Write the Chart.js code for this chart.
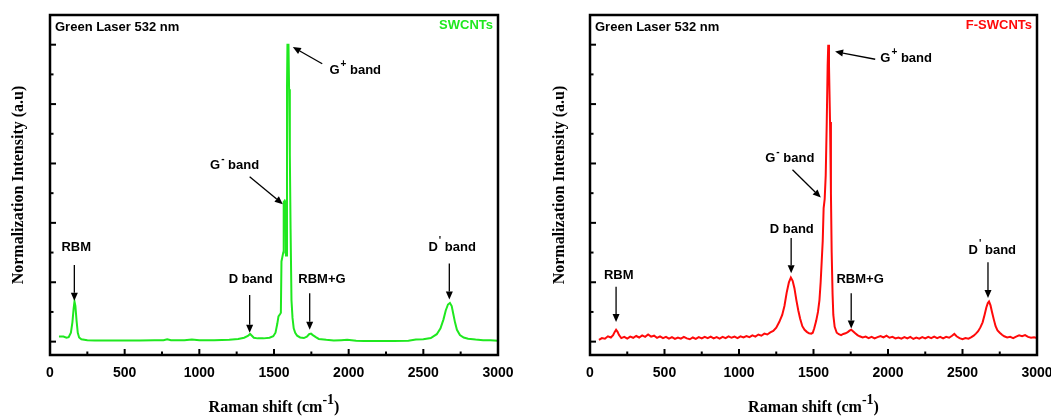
<!DOCTYPE html>
<html>
<head>
<meta charset="utf-8">
<script src="https://cdn.jsdelivr.net/npm/chart.js@4.4.1/dist/chart.umd.min.js"></script>
<style>
  body { margin: 0; background: #fff; }
  #wrap { position: relative; width: 1051px; height: 416px; overflow: hidden; }
  canvas { position: absolute; top: 0; }
</style>
</head>
<body>
<div id="wrap">
  <canvas id="swcnt" width="530" height="416" style="left:0"></canvas>
  <canvas id="fswcnt" width="521" height="416" style="left:530px"></canvas>
</div>
<script>
// x tick values (cm-1)
const xTicks = [0, 500, 1000, 1500, 2000, 2500, 3000];

// SWCNTs spectrum (green)
const swcntShift = [60, 90, 110, 125, 140, 150, 158, 164, 170, 178, 186, 195, 210, 250, 300, 400, 500, 600, 700, 760,
    785, 810, 900, 950, 1000, 1100, 1200, 1260, 1300, 1325, 1340, 1352, 1365, 1390, 1430, 1470, 1495, 1510, 1522, 1530,
    1540, 1546, 1550, 1556, 1562, 1565, 1572, 1577, 1580, 1584, 1587, 1590, 1597, 1601, 1606, 1611, 1617, 1624, 1632, 1642,
    1655, 1675, 1700, 1720, 1735, 1748, 1760, 1780, 1800, 1850, 1900, 1950, 1990, 2050, 2100, 2200, 2300, 2400, 2450, 2500,
    2550, 2590, 2615, 2635, 2650, 2665, 2678, 2690, 2700, 2712, 2725, 2745, 2770, 2800, 2850, 2900, 2950, 3000];
const swcntIntensity = [0.017, 0.017, 0.013, 0.015, 0.030, 0.065, 0.110, 0.135, 0.120, 0.070, 0.030, 0.014, 0.008, 0.005, 0.004, 0.004, 0.004, 0.004, 0.005, 0.005,
    0.008, 0.005, 0.005, 0.007, 0.005, 0.005, 0.006, 0.009, 0.013, 0.019, 0.026, 0.020, 0.013, 0.011, 0.011, 0.013, 0.018, 0.030, 0.060, 0.085,
    0.092, 0.097, 0.270, 0.285, 0.300, 0.470, 0.475, 0.470, 0.290, 0.290, 0.850, 1.000, 1.000, 0.850, 0.630, 0.380, 0.140, 0.080, 0.045, 0.030,
    0.020, 0.014, 0.012, 0.017, 0.025, 0.027, 0.022, 0.015, 0.009, 0.006, 0.004, 0.005, 0.006, 0.003, 0.002, 0.002, 0.002, 0.003, 0.007, 0.008,
    0.012, 0.025, 0.045, 0.075, 0.105, 0.125, 0.130, 0.120, 0.095, 0.065, 0.040, 0.022, 0.014, 0.010, 0.007, 0.005, 0.005, 0.003];

// F-SWCNTs spectrum (red)
const fswcntShift = [60, 80, 100, 120, 140, 155, 165, 175, 185, 195, 210, 230, 250, 270, 290, 310, 330, 350, 370, 390,
    410, 430, 450, 470, 490, 510, 530, 550, 570, 590, 610, 630, 650, 670, 690, 710, 730, 750, 770, 790,
    810, 830, 850, 870, 890, 910, 930, 950, 970, 990, 1010, 1030, 1050, 1070, 1090, 1110, 1130, 1150, 1170, 1190,
    1210, 1230, 1250, 1270, 1290, 1305, 1320, 1335, 1348, 1360, 1372, 1385, 1398, 1410, 1425, 1440, 1455, 1470, 1485, 1495,
    1505, 1518, 1530, 1540, 1548, 1555, 1562, 1568, 1575, 1582, 1589, 1595, 1599, 1604, 1611, 1617, 1622, 1628, 1633, 1642,
    1656, 1670, 1685, 1700, 1715, 1730, 1742, 1753, 1765, 1780, 1795, 1810, 1830, 1850, 1870, 1890, 1910, 1930, 1950, 1970,
    1990, 2010, 2030, 2050, 2070, 2090, 2110, 2130, 2150, 2170, 2190, 2210, 2230, 2250, 2270, 2290, 2310, 2330, 2350, 2370,
    2390, 2410, 2430, 2445, 2460, 2480, 2500, 2520, 2540, 2560, 2575, 2590, 2605, 2620, 2635, 2648, 2660, 2670, 2678, 2688,
    2698, 2710, 2722, 2735, 2750, 2765, 2780, 2800, 2820, 2840, 2860, 2880, 2900, 2920, 2940, 2960, 2980, 3000];
const fswcntIntensity = [0.006, 0.012, 0.010, 0.018, 0.014, 0.022, 0.032, 0.040, 0.033, 0.022, 0.012, 0.016, 0.010, 0.017, 0.013, 0.019, 0.014, 0.021, 0.016, 0.024,
    0.017, 0.020, 0.013, 0.018, 0.012, 0.016, 0.010, 0.015, 0.009, 0.014, 0.010, 0.016, 0.011, 0.008, 0.014, 0.009, 0.015, 0.011, 0.016, 0.012,
    0.017, 0.011, 0.015, 0.010, 0.016, 0.012, 0.018, 0.013, 0.017, 0.012, 0.018, 0.014, 0.019, 0.015, 0.021, 0.017, 0.024, 0.020, 0.027, 0.024,
    0.031, 0.036, 0.047, 0.066, 0.090, 0.120, 0.165, 0.200, 0.216, 0.205, 0.180, 0.140, 0.105, 0.078, 0.052, 0.040, 0.033, 0.028, 0.027, 0.030,
    0.045, 0.070, 0.100, 0.140, 0.200, 0.270, 0.340, 0.450, 0.480, 0.560, 0.740, 0.930, 1.000, 0.930, 0.740, 0.500, 0.300, 0.160, 0.090, 0.050,
    0.030, 0.025, 0.022, 0.026, 0.028, 0.032, 0.037, 0.040, 0.035, 0.028, 0.022, 0.018, 0.014, 0.017, 0.012, 0.016, 0.011, 0.015, 0.019, 0.014,
    0.020, 0.013, 0.016, 0.011, 0.014, 0.010, 0.015, 0.011, 0.016, 0.009, 0.014, 0.010, 0.015, 0.011, 0.016, 0.012, 0.017, 0.012, 0.016, 0.011,
    0.016, 0.013, 0.020, 0.026, 0.018, 0.012, 0.008, 0.012, 0.010, 0.015, 0.020, 0.027, 0.035, 0.048, 0.065, 0.090, 0.115, 0.130, 0.135, 0.122,
    0.100, 0.075, 0.052, 0.038, 0.030, 0.023, 0.018, 0.014, 0.016, 0.012, 0.017, 0.021, 0.018, 0.022, 0.016, 0.013, 0.015, 0.012];

// band labels: [x, y, base, superscript, rest]
const swcntLabels = [
    [176, 0.317, "RBM", "", ""],
    [1344, 0.210, "D band", "", ""],
    [1821, 0.210, "RBM+G", "", ""],
    [2693, 0.317, "D", "'", " band"],
    [1236, 0.593, "G", "-", " band"],
    [2044, 0.914, "G", "+", " band"]
];
// arrows: [x from, y from, x to, y to]
const swcntArrows = [
    [163, 0.258, 163, 0.138],
    [1337, 0.157, 1337, 0.030],
    [1739, 0.163, 1739, 0.040],
    [2674, 0.263, 2674, 0.142],
    [1337, 0.555, 1559, 0.463],
    [1823, 0.936, 1626, 0.992]
];
const fswcntLabels = [
    [193, 0.224, "RBM", "", ""],
    [1354, 0.377, "D band", "", ""],
    [1813, 0.211, "RBM+G", "", ""],
    [2700, 0.307, "D", "'", " band"],
    [1341, 0.617, "G", "-", " band"],
    [2122, 0.955, "G", "+", " band"]
];
const fswcntArrows = [
    [175, 0.185, 175, 0.066],
    [1350, 0.349, 1350, 0.230],
    [1753, 0.163, 1753, 0.044],
    [2671, 0.267, 2671, 0.147],
    [1359, 0.579, 1549, 0.485],
    [1914, 0.951, 1645, 0.977]
];

const SANS = "'Liberation Sans', Arial, sans-serif";
const SERIF = "'Liberation Serif', 'Times New Roman', serif";

function drawArrow(ctx, x1, y1, x2, y2) {
    const ang = Math.atan2(y2 - y1, x2 - x1);
    const hl = 8, hw = 3.5;
    const bx = x2 - hl * Math.cos(ang), by = y2 - hl * Math.sin(ang);
    ctx.beginPath();
    ctx.moveTo(x1, y1);
    ctx.lineTo(bx, by);
    ctx.stroke();
    ctx.beginPath();
    ctx.moveTo(x2, y2);
    ctx.lineTo(bx - hw * Math.sin(ang), by + hw * Math.cos(ang));
    ctx.lineTo(bx + hw * Math.sin(ang), by - hw * Math.cos(ang));
    ctx.closePath();
    ctx.fill();
}

function drawLabel(ctx, x, y, base, sup, rest) {
    const f = "bold 13px " + SANS, fs = "bold 10px " + SANS;
    ctx.font = f;
    const wb = ctx.measureText(base).width, wr = ctx.measureText(rest).width;
    ctx.font = fs;
    const ws = sup ? ctx.measureText(sup).width + 1 : 0;
    let cx = x - (wb + ws + wr) / 2;
    ctx.textAlign = 'left';
    ctx.textBaseline = 'middle';
    ctx.font = f;
    ctx.fillText(base, cx, y);
    cx += wb;
    if (sup) {
        ctx.font = fs;
        ctx.fillText(sup, cx + 1, y - 6);
        cx += ws;
    }
    ctx.font = f;
    ctx.fillText(rest, cx, y);
}

const framePlugin = {
    id: 'frame',
    afterDraw(chart, args, opts) {
        const ctx = chart.ctx;
        const { left, right, top, bottom } = chart.chartArea;
        const xs = chart.scales.x, ys = chart.scales.y;
        ctx.save();
        ctx.strokeStyle = '#000';
        ctx.fillStyle = '#000';

        // inward ticks
        ctx.lineWidth = 2;
        for (let v = 0; v <= 3000; v += 250) {
            const px = xs.getPixelForValue(v);
            const len = v % 500 === 0 ? 6 : 3.5;
            ctx.beginPath();
            ctx.moveTo(px, bottom);
            ctx.lineTo(px, bottom - len);
            ctx.stroke();
        }
        for (let i = 0; i <= 10; i++) {
            const py = ys.getPixelForValue(i / 10);
            const len = i % 2 === 0 ? 6 : 3.5;
            ctx.beginPath();
            ctx.moveTo(left, py);
            ctx.lineTo(left + len, py);
            ctx.stroke();
        }

        // frame
        ctx.lineWidth = 2.5;
        ctx.strokeRect(left, top, right - left, bottom - top);

        // corner texts
        ctx.font = "bold 13px " + SANS;
        ctx.textBaseline = 'middle';
        ctx.textAlign = 'left';
        ctx.fillText("Green Laser 532 nm", left + 5, top + 12);
        ctx.textAlign = 'right';
        ctx.fillStyle = opts.color;
        ctx.fillText(opts.name, right - 5, top + 10);
        ctx.fillStyle = '#000';

        // annotations
        ctx.lineWidth = 1.3;
        opts.arrows.forEach(a => drawArrow(ctx, xs.getPixelForValue(a[0]), ys.getPixelForValue(a[1]),
            xs.getPixelForValue(a[2]), ys.getPixelForValue(a[3])));
        opts.labels.forEach(l => drawLabel(ctx, xs.getPixelForValue(l[0]), ys.getPixelForValue(l[1]), l[2], l[3], l[4]));

        // axis titles
        ctx.font = "bold 16px " + SERIF;
        ctx.textAlign = 'center';
        ctx.textBaseline = 'middle';
        ctx.save();
        ctx.translate(opts.yTitleX, (top + bottom) / 2);
        ctx.rotate(-Math.PI / 2);
        ctx.fillText("Normalization Intensity (a.u)", 0, 0);
        ctx.restore();

        const t1 = "Raman shift (cm", t2 = "-1", t3 = ")";
        const w1 = ctx.measureText(t1).width, w3 = ctx.measureText(t3).width;
        ctx.font = "bold 14px " + SERIF;
        const w2 = ctx.measureText(t2).width;
        let tx = (left + right) / 2 - (w1 + w2 + w3) / 2;
        const ty = 408;
        ctx.textAlign = 'left';
        ctx.font = "bold 16px " + SERIF;
        ctx.fillText(t1, tx, ty);
        tx += w1;
        ctx.font = "bold 14px " + SERIF;
        ctx.fillText(t2, tx, ty - 8);
        tx += w2;
        ctx.font = "bold 16px " + SERIF;
        ctx.fillText(t3, tx, ty);
        ctx.restore();
    }
};

function makeChart(id, shifts, values, color, name, labels, arrows, padLeft, padRight, yTitleX) {
    const points = shifts.map((s, i) => ({ x: s, y: values[i] }));
    return new Chart(document.getElementById(id), {
        type: 'line',
        data: {
            datasets: [{
                data: points,
                borderColor: color,
                borderWidth: 2,
                pointRadius: 0,
                tension: 0,
                fill: false
            }]
        },
        options: {
            responsive: false,
            animation: false,
            events: [],
            layout: { padding: { left: 0, right: padRight, top: 15, bottom: 0 } },
            plugins: {
                legend: { display: false },
                tooltip: { enabled: false },
                frame: { color, name, labels, arrows, yTitleX }
            },
            scales: {
                x: {
                    type: 'linear',
                    min: 0,
                    max: 3000,
                    afterBuildTicks: s => { s.ticks = xTicks.map(v => ({ value: v })); },
                    grid: { display: false, drawTicks: false },
                    border: { display: false },
                    ticks: {
                        color: '#000',
                        padding: 10,
                        maxRotation: 0,
                        autoSkip: false,
                        font: { family: SANS, weight: 'bold', size: 14 },
                        callback: v => String(v)
                    },
                    afterFit: s => { s.height = 61; s.paddingLeft = 0; s.paddingRight = 0; }
                },
                y: {
                    min: -0.045,
                    max: 1.1,
                    grid: { display: false, drawTicks: false },
                    border: { display: false },
                    ticks: { display: false },
                    afterFit: s => { s.width = padLeft; }
                }
            }
        },
        plugins: [framePlugin]
    });
}

makeChart('swcnt', swcntShift, swcntIntensity, '#1fe81f', 'SWCNTs', swcntLabels, swcntArrows, 50, 32, 19);
makeChart('fswcnt', fswcntShift, fswcntIntensity, '#ff0a0a', 'F-SWCNTs', fswcntLabels, fswcntArrows, 60, 14, 30);
</script>
</body>
</html>
